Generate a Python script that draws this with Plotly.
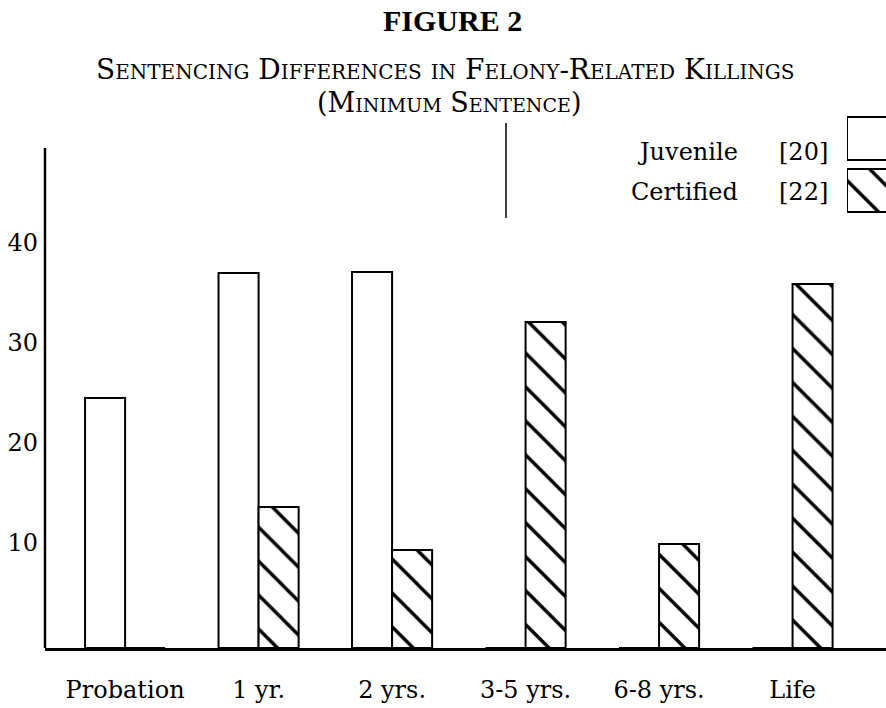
import plotly.graph_objects as go

categories = ["Probation", "1 yr.", "2 yrs.", "3-5 yrs.", "6-8 yrs.", "Life"]
juvenile = [25.0, 37.5, 37.6, 0, 0, 0]
certified = [0, 14.1, 9.8, 32.6, 10.4, 36.4]
series_names = ["Juvenile", "Certified"]
series_n = ["[20]", "[22]"]
y_ticks = [10, 20, 30, 40]

FONT = "DejaVu Serif"
TFONT = "Liberation Serif"
W, H = 886, 708
ML, MR, MT, MB = 45, 0, 110, 60
PW = W - ML - MR
PH = H - MT - MB

def px(xp):
    return (xp - ML) / PW

def py(yp):
    return (H - MB - yp) / PH

hatch = dict(shape="\\", fgcolor="#000000", fgopacity=1, bgcolor="white",
             size=24, solidity=0.14, fillmode="replace")

fig = go.Figure()
fig.add_trace(go.Bar(x=categories, y=juvenile, name=series_names[0],
                     marker=dict(color="white", line=dict(color="black", width=2)),
                     showlegend=False))
fig.add_trace(go.Bar(x=categories, y=certified, name=series_names[1],
                     marker=dict(color="white", line=dict(color="black", width=2),
                                 pattern=hatch),
                     showlegend=False))

# legend swatches (right-hand boxes, cut off by the page edge)
fig.add_trace(go.Bar(y=series_names[::-1], x=[5, 5], orientation="h", width=0.827,
                     xaxis="x2", yaxis="y2", showlegend=False, hoverinfo="skip",
                     marker=dict(color="white", line=dict(color="black", width=2),
                                 pattern=dict(shape=["\\", ""], fgcolor="#000000",
                                              fgopacity=1, bgcolor="white", size=24,
                                              solidity=0.14, fillmode="replace"))))

fig.update_layout(
    width=W, height=H,
    margin=dict(l=ML, r=MR, t=MT, b=MB),
    paper_bgcolor="white", plot_bgcolor="white",
    barmode="group", bargap=0.4, bargroupgap=0,
    font=dict(family=FONT, color="black"),
    xaxis=dict(type="category", range=[-0.6, 5.7], showline=True, linecolor="black",
               linewidth=3, ticks="", showgrid=False, zeroline=False,
               tickfont=dict(size=24, family=FONT), ticklabelstandoff=18),
    yaxis=dict(range=[0, PH / 10.0], showline=False, ticks="", showgrid=False,
               zeroline=False, tickvals=y_ticks, ticktext=[str(v) for v in y_ticks],
               tickfont=dict(size=24, family=FONT), ticklabelstandoff=6,
               ticklabelshift=-5),
    xaxis2=dict(domain=[px(847), 1], range=[0, 1], visible=False, anchor="y2"),
    yaxis2=dict(domain=[py(216.5), py(112.5)], range=[-0.5, 1.5], visible=False,
                anchor="x2", type="category"),
    showlegend=False,
)

# y axis line (from 0 to 50)
fig.add_shape(type="line", xref="paper", yref="y", x0=0, x1=0, y0=0, y1=50,
              line=dict(color="black", width=2.5))
# stray vertical rule near the legend
fig.add_shape(type="line", xref="paper", yref="paper", x0=px(506), x1=px(506),
              y0=py(218), y1=py(123), line=dict(color="black", width=1.5))

ann = []
ann.append(dict(text="<b>FIGURE 2</b>", x=px(452), y=py(21), xref="paper", yref="paper",
                xanchor="center", yanchor="middle",
                showarrow=False, font=dict(size=30, family=TFONT)))
ann.append(dict(text="Sentencing Differences in Felony-Related Killings", x=px(445), y=py(69),
                xref="paper", yref="paper", showarrow=False,
                xanchor="center", yanchor="middle",
                font=dict(size=28, family=FONT, variant="small-caps")))
ann.append(dict(text="(Minimum Sentence)", x=px(449), y=py(103),
                xref="paper", yref="paper", showarrow=False,
                xanchor="center", yanchor="middle",
                font=dict(size=27, family=FONT, variant="small-caps")))
for name, n, yc in zip(series_names, series_n, [152, 192]):
    ann.append(dict(text=name, x=px(740), y=py(yc), xref="paper", yref="paper",
                    xanchor="right", yanchor="middle", showarrow=False,
                    font=dict(size=24, family=FONT)))
    ann.append(dict(text=n, x=px(777), y=py(yc), xref="paper", yref="paper",
                    xanchor="left", yanchor="middle", showarrow=False,
                    font=dict(size=24, family=FONT)))
fig.update_layout(annotations=ann)

fig.write_html("out.html", config={"displayModeBar": False},
               post_script="document.body.style.margin='0px';")
